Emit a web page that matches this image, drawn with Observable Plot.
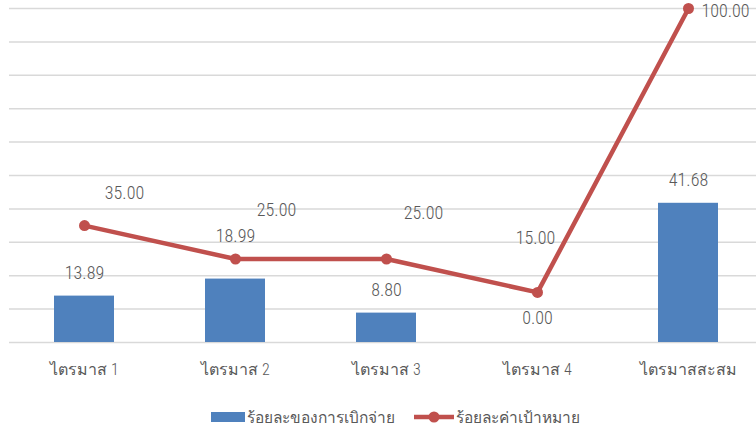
<!DOCTYPE html>
<html>
<head>
<meta charset="utf-8">
<script src="https://cdn.jsdelivr.net/npm/d3@7"></script>
<script src="https://cdn.jsdelivr.net/npm/@observablehq/plot@0.6"></script>
<style>
  html, body { margin: 0; padding: 0; background: #fff; overflow: hidden; width: 756px; height: 429px; }
  #chart { width: 764px; }
  #chart svg { display: block; max-width: none !important; overflow: visible; }
  .legend { position: relative; height: 39px; font-family: "Liberation Sans Narrow", "Roboto Condensed", "Arial Narrow", sans-serif; font-weight: 300; font-size: 15.5px; color: #595959; }
  .legend .item { position: absolute; top: 17px; display: flex; align-items: center; height: 20px; }
  .legend svg { display: block; margin-right: 2px; }
</style>
</head>
<body>
<div id="chart"></div>
<div class="legend" id="legend"></div>
<script>
const categories = ["ไตรมาส 1", "ไตรมาส 2", "ไตรมาส 3", "ไตรมาส 4", "ไตรมาสสะสม"];
const disbursed = [13.89, 18.99, 8.80, 0.00, 41.68];
const target = [35.00, 25.00, 25.00, 15.00, 100.00];
const gridTicks = [0, 10, 20, 30, 40, 50, 60, 70, 80, 90, 100];
const seriesNames = ["ร้อยละของการเบิกจ่าย", "ร้อยละค่าเป้าหมาย"];

const barColor = "#4F81BD";
const lineColor = "#C0504D";
const textColor = "#595959";
const font = '"Liberation Sans Narrow", "Roboto Condensed", "Arial Narrow", sans-serif';

const rows = categories.map((c, i) => ({cat: c, bar: disbursed[i], line: target[i], i}));

// label placement (Excel-style offsets)
const barLabelDy = [-23, -43, -23, -24, -23];
const lineLabelDx = [40, 41, 37, -2, 37];
const lineLabelDy = [-32, -49, -46, -54, 3];

const marks = [
  Plot.ruleY(gridTicks, {stroke: "#D9D9D9", strokeWidth: 1.5}),
  Plot.barY(rows, {x: "cat", y: "bar", fill: barColor}),
  Plot.line(rows, {x: "cat", y: "line", stroke: lineColor, strokeWidth: 4.5}),
  Plot.dot(rows, {x: "cat", y: "line", fill: lineColor, r: 5.5})
];
rows.forEach((d, i) => {
  marks.push(Plot.text([d], {x: "cat", y: "bar", text: r => r.bar.toFixed(2), dy: barLabelDy[i], fill: textColor, fontSize: 18, fontWeight: 300}));
  marks.push(Plot.text([d], {x: "cat", y: "line", text: r => r.line.toFixed(2), dx: lineLabelDx[i], dy: lineLabelDy[i], fill: textColor, fontSize: 18, fontWeight: 300}));
});

const chart = Plot.plot({
  width: 764,
  height: 390,
  marginLeft: 9,
  marginRight: 0,
  marginTop: 8,
  marginBottom: 48,
  style: {fontFamily: font, fontSize: "16px", fontWeight: 300, color: textColor, background: "#fff", maxWidth: "none"},
  x: {domain: categories, paddingInner: 0.6, paddingOuter: 0.3, label: null, tickSize: 0, tickPadding: 21},
  y: {domain: [0, 100], axis: null},
  marks
});
document.getElementById("chart").appendChild(chart);

// legend
const legend = document.getElementById("legend");
legend.innerHTML = `
  <div class="item" style="left:211px">
    <svg width="34" height="12"><rect x="0" y="1" width="34" height="10" fill="${barColor}"/></svg>
    <span>${seriesNames[0]}</span>
  </div>
  <div class="item" style="left:414px">
    <svg width="40" height="14"><line x1="0" y1="7" x2="40" y2="7" stroke="${lineColor}" stroke-width="4.5"/><circle cx="20" cy="7" r="5.5" fill="${lineColor}"/></svg>
    <span>${seriesNames[1]}</span>
  </div>`;
</script>
</body>
</html>
